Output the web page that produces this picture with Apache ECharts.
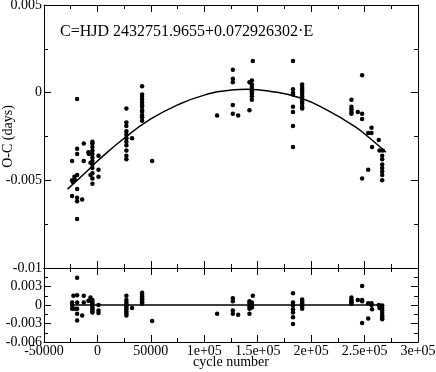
<!DOCTYPE html>
<html>
<head>
<meta charset="utf-8">
<script src="https://cdn.jsdelivr.net/npm/echarts@6/dist/echarts.min.js"></script>
<style>
  html, body { margin: 0; padding: 0; background: #fff; }
  #chart { width: 436px; height: 372px; }
</style>
</head>
<body>
<div id="chart"></div>
<script>
  // O-C values (cycle, days)
  var ocPoints = [
    [-23700,-0.0039],[-23700,-0.0050],[-23000,-0.0051],[-23700,-0.0059],
    [-21500,-0.0048],[-21000,-0.0050],
    [-19000,-0.00036],[-19000,-0.0032],[-19000,-0.0035],[-19000,-0.0047],[-19000,-0.0055],
    [-19000,-0.0060],[-19000,-0.0062],[-19000,-0.0072],
    [-14300,-0.0061],[-12800,-0.0029],[-12800,-0.0039],
    [-8400,-0.0034],[-8000,-0.0035],[-6500,-0.0047],[-6500,-0.0040],
    [-4700,-0.0028],[-4700,-0.0029],[-4700,-0.0031],[-4700,-0.0033],[-4700,-0.0035],[-4700,-0.0037],
    [-4700,-0.0039],[-4700,-0.0041],[-4700,-0.0043],[-4700,-0.0046],[-4700,-0.0049],[-4700,-0.0052],
    [1000,-0.0036],[1000,-0.0044],[1000,-0.0048],
    [27100,-0.0009],[27100,-0.0017],[27100,-0.0019],[27100,-0.0022],[27100,-0.0024],[27100,-0.0026],
    [27100,-0.0028],[27100,-0.0030],[27100,-0.0033],[27100,-0.0036],[27100,-0.0038],
    [32400,-0.0026],
    [41800,0.00036],[41800,-0.0001],[41800,-0.00025],[41800,-0.0004],[41800,-0.00056],[41800,-0.0007],
    [41800,-0.0008],[41800,-0.0010],[41800,-0.0011],[41800,-0.0013],[41800,-0.0014],[41800,-0.0016],
    [51200,-0.0039],
    [112000,-0.0013],
    [126700,0.0013],[126700,0.0008],[126700,0.0006],[126700,-0.0007],[126700,-0.0012],
    [131700,-0.0013],
    [145400,0.0018],[142300,0.0006],[142300,-0.0010],
    [144500,0.0007],[144500,0.00046],[144500,0.00033],[144500,0.0002],[144500,0.00008],
    [144500,-0.00006],[144500,-0.0002],[144500,-0.0004],
    [183000,0.0018],[183000,0.0002],[183000,0.0],[183000,-0.0001],[183000,-0.0008],
    [183000,-0.0011],[183000,-0.0019],[183000,-0.0031],
    [191600,0.00046],[191600,0.00033],[191600,0.0002],[191600,0.00007],[191600,-0.00006],[191600,-0.0002],
    [191600,-0.00036],[191600,-0.0005],[191600,-0.00063],[191600,-0.0008],[191600,-0.0009],
    [247700,0.0010],
    [237700,-0.0004],[237700,-0.0008],[237700,-0.00094],[237700,-0.0011],[237700,-0.0012],
    [243700,-0.0011],[247700,-0.0012],[247700,-0.0015],
    [256500,-0.0020],[253400,-0.0023],[256500,-0.0023],[263300,-0.0027],[257000,-0.0031],
    [253400,-0.0044],[247700,-0.0049],
    [264000,-0.0033],[267000,-0.0033],
    [266500,-0.0036],[266500,-0.0038],[266500,-0.0041],[266500,-0.0043],[266500,-0.0045],
    [266500,-0.0047],[266500,-0.0050]
  ];

  // quadratic ephemeris fit
  var fitCurve = [
    [-28000,-0.0055],[-10000,-0.0045],[0,-0.0039],[25000,-0.0026],[50000,-0.0015],
    [75000,-0.0007],[100000,-0.00014],[125000,0.00015],[140000,0.0002],[160000,0.0001],
    [190000,-0.0003],[215000,-0.0010],[240000,-0.0019],[255000,-0.0026],[270000,-0.0034]
  ];

  // residuals (cycle, days)
  var residPoints = [
    [-23700,0.0004],[-23700,0.0],[-23700,-0.0006],[-22500,0.0015],[-21000,-0.0006],
    [-19000,0.0044],[-19000,0.0016],[-19000,0.0004],[-19000,-0.0006],[-19000,-0.0014],[-19000,-0.0025],
    [-14300,-0.0017],[-12800,0.0015],[-12800,0.0004],
    [-8400,0.0007],[-6500,0.0012],[-5500,0.0007],
    [-4700,0.0008],[-4700,0.0005],[-4700,0.0002],[-4700,-0.0001],[-4700,-0.0004],
    [-4700,-0.0007],[-4700,-0.0010],[-4700,-0.0012],
    [1000,0.0],[1000,-0.0009],[1000,-0.0013],
    [27100,0.0015],[27100,0.0008],[27100,0.0004],[27100,0.0001],[27100,-0.0002],
    [27100,-0.0005],[27100,-0.0008],[27100,-0.0011],[27100,-0.0014],[27100,-0.0017],
    [32400,-0.0005],
    [41800,0.0020],[41800,0.0017],[41800,0.0014],[41800,0.0011],[41800,0.0009],
    [41800,0.0006],[41800,0.0004],[41800,0.0002],
    [51200,-0.0026],
    [112000,-0.0014],
    [126700,0.0011],[126700,0.0006],[126700,-0.0009],[126700,-0.0014],[131700,-0.0016],
    [145400,0.0015],
    [142300,0.0006],[142300,0.0003],[142300,-0.0002],[142300,-0.0006],[142300,-0.0014],
    [144500,0.0004],[144500,0.0001],[144500,-0.0002],[144500,-0.0004],
    [183000,0.0019],[183000,0.0004],[183000,-0.0001],[183000,-0.0007],[183000,-0.0012],
    [183000,-0.0020],[183000,-0.0031],
    [191600,0.0009],[191600,0.0006],[191600,0.0003],[191600,0.0],[191600,-0.0003],[191600,-0.0006],
    [237700,0.0012],[237700,0.0009],[237700,0.0006],[237700,0.0004],[237700,0.0002],
    [243700,0.0008],[247700,0.0031],[247700,0.0008],[247700,0.0006],[247700,-0.0029],
    [253400,0.0003],[253400,-0.0022],[256500,0.0003],[256500,0.0],[257000,-0.0007],
    [263300,0.0],[264000,-0.0005],
    [266500,-0.0001],[266500,-0.0005],[266500,-0.0009],[266500,-0.0013],
    [266500,-0.0017],[266500,-0.0020],[266500,-0.0023]
  ];

  var zeroLine = [[-25000,0],[268000,0]];

  var xTicks = [-50000,0,50000,100000,150000,200000,250000,300000];
  var xTickLabels = ['-50000','0','50000','1e+05','1.5e+05','2e+05','2.5e+05','3e+05'];
  var ocTicks = [0.005,0,-0.005,-0.01];
  var ocTickLabels = ['0.005','0','-0.005','-0.01'];
  var resTicks = [0.003,0,-0.003,-0.006];
  var resTickLabels = ['0.003','0','-0.003','-0.006'];

  var ephemeris = 'C=HJD 2432751.9655+0.072926302\u00b7E';

  var FONT = 'Liberation Serif';

  function pickLabel(ticks, labels) {
    return function (v) {
      for (var i = 0; i < ticks.length; i++) {
        if (Math.abs(v - ticks[i]) < 1e-9) return labels[i];
      }
      return '';
    };
  }

  function frameX(grid, pos, showLabel) {
    return {
      type: 'value', gridIndex: grid, position: pos,
      min: -50000, max: 300000, interval: 50000,
      axisLine: { show: true, onZero: false, lineStyle: { color: '#000', width: 1 } },
      axisTick: { show: true, inside: true, length: 7, lineStyle: { color: '#000', width: 1 } },
      minorTick: { show: true, splitNumber: 2, length: 4, lineStyle: { color: '#000', width: 1 } },
      splitLine: { show: false },
      axisLabel: {
        show: showLabel, color: '#000', fontFamily: FONT, fontSize: 14, margin: 2,
        formatter: pickLabel(xTicks, xTickLabels)
      }
    };
  }
  function frameY(grid, pos, min, max, step, ticks, labels, showLabel) {
    return {
      type: 'value', gridIndex: grid, position: pos,
      min: min, max: max, interval: step,
      axisLine: { show: true, onZero: false, lineStyle: { color: '#000', width: 1 } },
      axisTick: { show: true, inside: true, length: 7, lineStyle: { color: '#000', width: 1 } },
      minorTick: { show: true, splitNumber: 2, length: 4, lineStyle: { color: '#000', width: 1 } },
      splitLine: { show: false },
      axisLabel: {
        show: showLabel, color: '#000', fontFamily: FONT, fontSize: 14, margin: 2,
        showMaxLabel: true, showMinLabel: true,
        formatter: pickLabel(ticks, labels)
      }
    };
  }

  var chart = echarts.init(document.getElementById('chart'));

  var xBot = frameX(1, 'bottom', true);
  xBot.name = 'cycle number';
  xBot.nameLocation = 'middle';
  xBot.nameGap = 13;
  xBot.nameMoveOverlap = false;
  xBot.nameTextStyle = { color: '#000', fontFamily: FONT, fontSize: 14 };

  var yTop = frameY(0, 'left', -0.01, 0.005, 0.005, ocTicks, ocTickLabels, true);
  yTop.name = 'O-C (days)';
  yTop.nameLocation = 'middle';
  yTop.nameGap = 29;
  yTop.nameMoveOverlap = false;
  yTop.nameTextStyle = { color: '#000', fontFamily: FONT, fontSize: 14 };

  var option = {
    animation: false,
    backgroundColor: '#fff',
    title: {
      text: ephemeris, left: 55, top: 19,
      textStyle: { color: '#000', fontFamily: FONT, fontSize: 16, fontWeight: 'normal' }
    },
    grid: [
      { left: 44, top: 5, width: 374, height: 263, outerBoundsMode: 'none' },
      { left: 44, top: 268, width: 374, height: 74, outerBoundsMode: 'none' }
    ],
    xAxis: [
      frameX(0, 'bottom', false),
      xBot,
      frameX(0, 'top', false),
      frameX(1, 'top', false)
    ],
    yAxis: [
      yTop,
      frameY(1, 'left', -0.006, 0.006, 0.003, resTicks, resTickLabels, true),
      frameY(0, 'right', -0.01, 0.005, 0.005, ocTicks, ocTickLabels, false),
      frameY(1, 'right', -0.006, 0.006, 0.003, resTicks, resTickLabels, false)
    ],
    series: [
      {
        type: 'line', xAxisIndex: 0, yAxisIndex: 0, data: fitCurve,
        smooth: 0.5, showSymbol: false,
        lineStyle: { color: '#000', width: 1.5 }
      },
      {
        type: 'scatter', xAxisIndex: 0, yAxisIndex: 0, data: ocPoints,
        symbol: 'circle', symbolSize: 4.5, itemStyle: { color: '#000', opacity: 1 }
      },
      {
        type: 'line', xAxisIndex: 1, yAxisIndex: 1, data: zeroLine,
        showSymbol: false, lineStyle: { color: '#000', width: 1.5 }
      },
      {
        type: 'scatter', xAxisIndex: 1, yAxisIndex: 1, data: residPoints,
        symbol: 'circle', symbolSize: 4.5, itemStyle: { color: '#000', opacity: 1 }
      }
    ]
  };
  chart.setOption(option);
</script>
</body>
</html>
